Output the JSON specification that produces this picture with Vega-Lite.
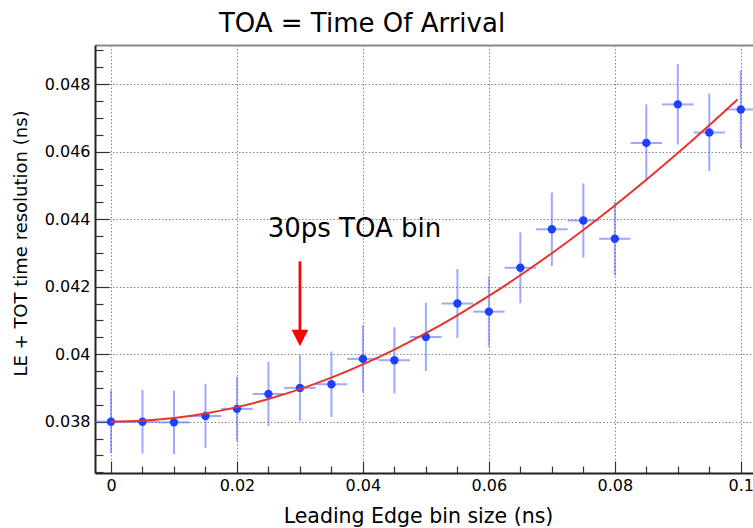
{
  "$schema": "https://vega.github.io/schema/vega-lite/v6.json",
  "autosize": {"type": "none"},
  "width": 658,
  "height": 428,
  "padding": {"left": 95, "top": 45, "right": 0, "bottom": 55},
  "background": "white",
  "config": {
    "view": {"stroke": null},
    "font": "DejaVu Sans"
  },
  "title": {
    "text": "TOA = Time Of Arrival",
    "font": "DejaVu Sans",
    "fontSize": 26,
    "fontWeight": "normal",
    "color": "#000000",
    "anchor": "middle",
    "frame": "group",
    "baseline": "alphabetic",
    "offset": -13,
    "dx": -62
  },
  "datasets": {
    "pts": [
      {"x": 0.000, "y": 0.03800, "ylo": 0.03707, "yhi": 0.03893, "xlo": -0.0025, "xhi": 0.0025},
      {"x": 0.005, "y": 0.03800, "ylo": 0.03706, "yhi": 0.03894, "xlo": 0.0025, "xhi": 0.0075},
      {"x": 0.010, "y": 0.03798, "ylo": 0.03704, "yhi": 0.03892, "xlo": 0.0075, "xhi": 0.0125},
      {"x": 0.015, "y": 0.03817, "ylo": 0.03722, "yhi": 0.03912, "xlo": 0.0125, "xhi": 0.0175},
      {"x": 0.020, "y": 0.03838, "ylo": 0.03742, "yhi": 0.03934, "xlo": 0.0175, "xhi": 0.0225},
      {"x": 0.025, "y": 0.03882, "ylo": 0.03787, "yhi": 0.03977, "xlo": 0.0225, "xhi": 0.0275},
      {"x": 0.030, "y": 0.03900, "ylo": 0.03802, "yhi": 0.03998, "xlo": 0.0275, "xhi": 0.0325},
      {"x": 0.035, "y": 0.03911, "ylo": 0.03814, "yhi": 0.04008, "xlo": 0.0325, "xhi": 0.0375},
      {"x": 0.040, "y": 0.03986, "ylo": 0.03887, "yhi": 0.04085, "xlo": 0.0375, "xhi": 0.0425},
      {"x": 0.045, "y": 0.03982, "ylo": 0.03884, "yhi": 0.04080, "xlo": 0.0425, "xhi": 0.0475},
      {"x": 0.050, "y": 0.04051, "ylo": 0.03950, "yhi": 0.04152, "xlo": 0.0475, "xhi": 0.0525},
      {"x": 0.055, "y": 0.04150, "ylo": 0.04048, "yhi": 0.04252, "xlo": 0.0525, "xhi": 0.0575},
      {"x": 0.060, "y": 0.04126, "ylo": 0.04022, "yhi": 0.04230, "xlo": 0.0575, "xhi": 0.0625},
      {"x": 0.065, "y": 0.04256, "ylo": 0.04151, "yhi": 0.04361, "xlo": 0.0625, "xhi": 0.0675},
      {"x": 0.070, "y": 0.04370, "ylo": 0.04261, "yhi": 0.04479, "xlo": 0.0675, "xhi": 0.0725},
      {"x": 0.075, "y": 0.04396, "ylo": 0.04286, "yhi": 0.04506, "xlo": 0.0725, "xhi": 0.0775},
      {"x": 0.080, "y": 0.04342, "ylo": 0.04233, "yhi": 0.04451, "xlo": 0.0775, "xhi": 0.0825},
      {"x": 0.085, "y": 0.04626, "ylo": 0.04512, "yhi": 0.04740, "xlo": 0.0825, "xhi": 0.0875},
      {"x": 0.090, "y": 0.04740, "ylo": 0.04621, "yhi": 0.04859, "xlo": 0.0875, "xhi": 0.0925},
      {"x": 0.095, "y": 0.04657, "ylo": 0.04542, "yhi": 0.04772, "xlo": 0.0925, "xhi": 0.0975},
      {"x": 0.100, "y": 0.04725, "ylo": 0.04609, "yhi": 0.04841, "xlo": 0.0975, "xhi": 0.1025}
    ],
    "fit": [
      {"x": 0.000, "y": 0.038000},
      {"x": 0.005, "y": 0.038027},
      {"x": 0.010, "y": 0.038108},
      {"x": 0.015, "y": 0.038243},
      {"x": 0.020, "y": 0.038432},
      {"x": 0.025, "y": 0.038672},
      {"x": 0.030, "y": 0.038965},
      {"x": 0.035, "y": 0.039307},
      {"x": 0.040, "y": 0.039699},
      {"x": 0.045, "y": 0.040138},
      {"x": 0.050, "y": 0.040623},
      {"x": 0.055, "y": 0.041153},
      {"x": 0.060, "y": 0.041725},
      {"x": 0.065, "y": 0.042339},
      {"x": 0.070, "y": 0.042991},
      {"x": 0.075, "y": 0.043681},
      {"x": 0.080, "y": 0.044407},
      {"x": 0.085, "y": 0.045167},
      {"x": 0.090, "y": 0.045959},
      {"x": 0.095, "y": 0.046782},
      {"x": 0.0995, "y": 0.047548}
    ],
    "arrow": [
      {"x": 0.03, "ytop": 0.04275, "ybase": 0.0407, "yhead": 0.04048}
    ],
    "note": [
      {"x": 0.03865, "y": 0.04346, "label": "30ps TOA bin"}
    ]
  },
  "resolve": {"axis": {"x": "independent", "y": "independent"}},
  "layer": [
    {
      "data": {"name": "pts"},
      "mark": {"type": "rule", "color": "#4a62ff", "opacity": 0.55, "strokeWidth": 2},
      "encoding": {
        "x": {
          "field": "x", "type": "quantitative",
          "scale": {"domain": [-0.00254, 0.10194], "nice": false, "zero": false},
          "axis": {
            "orient": "bottom",
            "title": "Leading Edge bin size (ns)",
            "titleFont": "DejaVu Sans", "titleFontSize": 20.5, "titleFontWeight": "normal", "titleColor": "#000",
            "titleX": 323, "titleY": 49, "titleBaseline": "alphabetic", "titleAlign": "center",
            "values": [0, 0.005, 0.01, 0.015, 0.02, 0.025, 0.03, 0.035, 0.04, 0.045, 0.05, 0.055, 0.06, 0.065, 0.07, 0.075, 0.08, 0.085, 0.09, 0.095, 0.1],
            "format": "~g",
            "labelExpr": "abs(datum.value*50 - round(datum.value*50)) < 1e-6 ? datum.label : ''",
            "labelFont": "DejaVu Sans", "labelFontSize": 16, "labelColor": "#000",
            "labelPadding": 16, "labelOverlap": false, "labelFlush": false, "labelBound": false,
            "tickSize": {"condition": {"test": "abs(datum.value*50 - round(datum.value*50)) < 1e-6", "value": -12}, "value": -7},
            "tickColor": "#333", "tickWidth": 1.2,
            "domainColor": "#222", "domainWidth": 2,
            "grid": true,
            "gridColor": "#888", "gridDash": [1.5, 2], "gridWidth": 1,
            "gridOpacity": {"condition": {"test": "abs(datum.value*50 - round(datum.value*50)) < 1e-6", "value": 1}, "value": 0}
          }
        },
        "y": {
          "field": "ylo", "type": "quantitative",
          "scale": {"domain": [0.03648, 0.04916], "nice": false, "zero": false},
          "axis": {
            "orient": "left",
            "title": "LE + TOT time resolution (ns)",
            "titleFont": "DejaVu Sans", "titleFontSize": 18, "titleFontWeight": "normal", "titleColor": "#000",
            "titleAngle": -90, "titleX": -74, "titleY": 198, "titleAlign": "center", "titleBaseline": "middle",
            "values": [0.038, 0.04, 0.042, 0.044, 0.046, 0.048],
            "format": "~g",
            "labelFont": "DejaVu Sans", "labelFontSize": 16, "labelColor": "#000",
            "labelPadding": 19, "labelOverlap": false, "labelFlush": false, "labelBound": false,
            "tickSize": -14,
            "tickColor": "#333", "tickWidth": 1.2,
            "domainColor": "#222", "domainWidth": 2,
            "grid": true,
            "gridColor": "#888", "gridDash": [1.5, 2], "gridWidth": 1
          }
        },
        "y2": {"field": "yhi"}
      }
    },
    {
      "data": {"name": "pts"},
      "mark": {"type": "rule", "color": "#4a62ff", "opacity": 0.55, "strokeWidth": 2},
      "encoding": {
        "x": {"field": "xlo", "type": "quantitative", "axis": null},
        "x2": {"field": "xhi"},
        "y": {
          "field": "y", "type": "quantitative",
          "axis": {
            "orient": "left", "title": null, "labels": false, "grid": false, "domain": false,
            "values": [0.0365, 0.037, 0.0375, 0.0385, 0.039, 0.0395, 0.0405, 0.041, 0.0415, 0.0425, 0.043, 0.0435, 0.0445, 0.045, 0.0455, 0.0465, 0.047, 0.0475, 0.0485, 0.049],
            "tickSize": -8, "tickColor": "#333", "tickWidth": 1.2,
            "minExtent": 0, "maxExtent": 0
          }
        }
      }
    },
    {
      "data": {"name": "pts"},
      "mark": {"type": "circle", "color": "#1f3fff", "opacity": 1, "size": 70},
      "encoding": {
        "x": {"field": "x", "type": "quantitative", "axis": null},
        "y": {"field": "y", "type": "quantitative", "axis": null}
      }
    },
    {
      "data": {"name": "fit"},
      "mark": {"type": "line", "color": "#e8332c", "strokeWidth": 2, "interpolate": "monotone"},
      "encoding": {
        "x": {
          "field": "x", "type": "quantitative",
          "axis": {
            "orient": "top", "title": null, "labels": false, "ticks": false, "grid": false,
            "domainColor": "#888", "domainWidth": 2,
            "minExtent": 0, "maxExtent": 0
          }
        },
        "y": {"field": "y", "type": "quantitative", "axis": null}
      }
    },
    {
      "data": {"name": "arrow"},
      "mark": {"type": "rule", "color": "#ff0000", "strokeWidth": 2.7},
      "encoding": {
        "x": {"field": "x", "type": "quantitative", "axis": null},
        "y": {"field": "ytop", "type": "quantitative", "axis": null},
        "y2": {"field": "ybase"}
      }
    },
    {
      "data": {"name": "arrow"},
      "mark": {"type": "point", "shape": "M-1,-1L1,-1L0,1Z", "filled": true, "color": "#ff0000", "opacity": 1, "size": 276},
      "encoding": {
        "x": {"field": "x", "type": "quantitative", "axis": null},
        "y": {"field": "yhead", "type": "quantitative", "axis": null}
      }
    },
    {
      "data": {"name": "note"},
      "mark": {"type": "text", "font": "DejaVu Sans", "fontSize": 26, "color": "#000", "align": "center", "baseline": "alphabetic"},
      "encoding": {
        "x": {"field": "x", "type": "quantitative", "axis": null},
        "y": {"field": "y", "type": "quantitative", "axis": null},
        "text": {"field": "label"}
      }
    }
  ]
}
